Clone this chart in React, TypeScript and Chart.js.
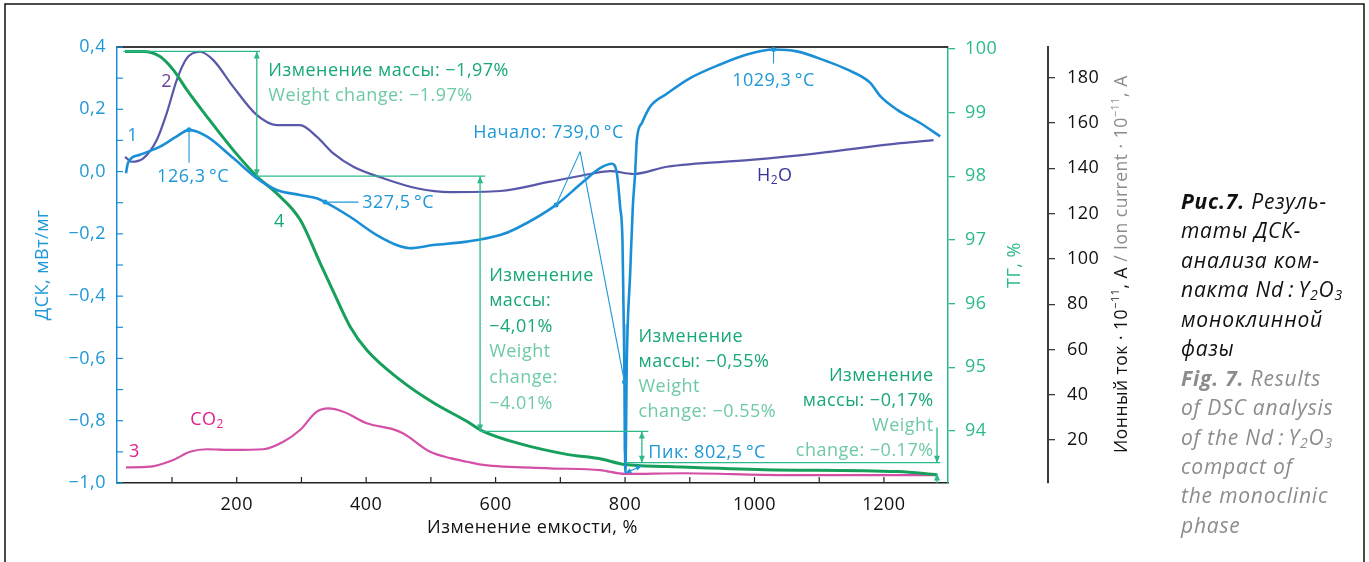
import React, { useEffect, useRef } from 'react';
import { Chart, registerables } from 'chart.js';

Chart.register(...registerables);

const FONT = "'Open Sans', 'Noto Sans', sans-serif";

// ---- Curve 1: DSC (mW/mg) vs temperature ----
const dscTemp = [28.9, 32, 50.5, 81.5, 107.3, 126.3, 153.6, 194.3, 230.9, 261.8, 297.8, 323.6, 336.5, 375, 416.4, 452.4, 467.9, 503.4, 555.5, 607, 632.8, 693.5, 735.7, 761.5, 779.6, 787.3, 792.4, 796, 797.6, 799.1, 800.5, 802.8, 807.9, 812, 815.6, 818.2, 826, 838.9, 864.6, 900.6, 947, 988.3, 1029.4, 1065.5, 1111.9, 1142.8, 1178.9, 1194.3, 1220.1, 1256, 1287];
const dscValue = [-0.005, 0.028, 0.054, 0.08, 0.113, 0.134, 0.113, 0.044, -0.021, -0.059, -0.075, -0.086, -0.098, -0.145, -0.204, -0.24, -0.246, -0.236, -0.225, -0.204, -0.182, -0.107, -0.032, 0.011, 0.025, -0.005, -0.113, -0.22, -0.435, -0.649, -0.965, -0.596, -0.327, -0.113, -0.005, 0.102, 0.156, 0.209, 0.25, 0.3, 0.344, 0.376, 0.392, 0.386, 0.354, 0.328, 0.285, 0.242, 0.199, 0.156, 0.113];

// ---- Curve 2: H2O ion current ----
const h2oTemp = [27.4, 37.7, 55.6, 76.4, 91.8, 107.3, 122.7, 143.3, 163.8, 194.7, 230.9, 261.8, 297.8, 323.6, 349.3, 380.2, 426.6, 478.2, 529.7, 607, 684.3, 746.1, 777, 813, 864.6, 994.3, 1096.4, 1225.2, 1276.7];
const h2oValue = [145.1, 142.9, 144.4, 152.5, 164.3, 179, 188.6, 191.5, 187.8, 176, 163.6, 159.1, 159.1, 154, 146.6, 140.7, 135.6, 131.2, 129.5, 130, 134.1, 137.5, 138.8, 137.5, 140.7, 143.7, 146.6, 151.1, 152.5];

// ---- Curve 3: CO2 ion current ----
const co2Temp = [28.9, 66, 102, 127.8, 153.6, 194.7, 241.1, 272, 297.8, 323.6, 341.6, 364.8, 400.9, 442, 457.5, 498.8, 530, 555.5, 581, 684, 761.5, 800, 890, 1045, 1282];
const co2Value = [7.9, 8.2, 11.2, 14.8, 15.9, 15.6, 15.9, 19.2, 24.4, 32.5, 34, 32.5, 27.4, 24.7, 22.9, 14.8, 12, 10.4, 9, 7.5, 6.7, 5, 5.3, 4.5, 4.5];

// ---- Curve 4: TG (%) ----
const tgTemp = [27.4, 55.6, 81.5, 102, 122.7, 153.6, 194.7, 230.9, 261.8, 297.8, 328.7, 350, 375, 400.9, 452.4, 503.9, 555.5, 581, 632.8, 710, 761.5, 800, 864.6, 1016, 1222, 1282];
const tgValue = [99.96, 99.96, 99.88, 99.67, 99.36, 98.94, 98.41, 98.0, 97.73, 97.32, 96.64, 96.17, 95.64, 95.27, 94.8, 94.44, 94.15, 93.99, 93.81, 93.63, 93.56, 93.47, 93.44, 93.39, 93.36, 93.31];

// ---- Axis ranges ----
const xRange = [15, 1299];
const dscRange = [-1.0, 0.4];
const tgRange = [93.18, 100.03];
const ionRange = [1, 193.6];

// ---- Mass-change levels (TG %) ----
const tgLevels = { start: 99.96, a: 98.0, b: 93.99, c: 93.5, end: 93.33 };

// ---- Text ----
const block197 = [
  ['Изменение массы: −1,97%', 'dark'],
  ['Weight change: −1.97%', 'light'],
];
const block401 = [
  ['Изменение', 'dark'], ['массы:', 'dark'], ['−4,01%', 'dark'],
  ['Weight', 'light'], ['change:', 'light'], ['−4.01%', 'light'],
];
const block055 = [
  ['Изменение', 'dark'], ['массы: −0,55%', 'dark'],
  ['Weight', 'light'], ['change: −0.55%', 'light'],
];
const block017 = [
  ['Изменение', 'dark'], ['массы: −0,17%', 'dark'],
  ['Weight', 'light'], ['change: −0.17%', 'light'],
];
const captionRu = ['Резуль-', 'таты ДСК-', 'анализа ком-', 'пакта Nd', 'моноклинной', 'фазы'];
const captionEn = ['Results', 'of DSC analysis', 'of the Nd', 'compact of', 'the monoclinic', 'phase'];

const C = {
  blue: '#1b8fd6',
  blueText: '#1e98d8',
  green: '#17a05c',
  greenAxis: '#2cb98c',
  greenDark: '#17a874',
  greenLight: '#6ecaa5',
  purple: '#5858aa',
  purpleText: '#6a3e9c',
  h2oText: '#35359a',
  pink: '#d450a6',
  pinkText: '#e3208c',
  gray: '#8c8c8c',
};

const S = 18; // main text size
const SPACING = '0.5px';

const toPts = (xs: number[], ys: number[]) => xs.map((x, i) => ({ x, y: ys[i] }));

type Run = { t: string; size?: number; dy?: number; bold?: boolean; italic?: boolean; color?: string };
type Base = { size: number; color: string; italic?: boolean; bold?: boolean; spacing?: string };

function drawRuns(ctx: any, runs: Run[], x: number, y: number, base: Base, align: 'left' | 'center' | 'right' = 'left') {
  const fontOf = (r: Run) => `${(r.italic ?? base.italic) ? 'italic ' : ''}${(r.bold ?? base.bold) ? 'bold ' : ''}${r.size ?? base.size}px ${FONT}`;
  ctx.save();
  ctx.letterSpacing = base.spacing ?? SPACING;
  let total = 0;
  for (const r of runs) { ctx.font = fontOf(r); total += ctx.measureText(r.t).width; }
  let cx = align === 'left' ? x : align === 'center' ? x - total / 2 : x - total;
  ctx.textAlign = 'left';
  ctx.textBaseline = 'middle';
  for (const r of runs) {
    ctx.font = fontOf(r);
    ctx.fillStyle = r.color ?? base.color;
    ctx.fillText(r.t, cx, y + (r.dy ?? 0));
    cx += ctx.measureText(r.t).width;
  }
  ctx.restore();
  return total;
}

function seg(ctx: CanvasRenderingContext2D, x1: number, y1: number, x2: number, y2: number) {
  ctx.beginPath(); ctx.moveTo(x1, y1); ctx.lineTo(x2, y2); ctx.stroke();
}

function head(ctx: CanvasRenderingContext2D, fx: number, fy: number, tx: number, ty: number, len = 7, half = 3) {
  const a = Math.atan2(ty - fy, tx - fx);
  ctx.beginPath();
  ctx.moveTo(tx, ty);
  ctx.lineTo(tx - len * Math.cos(a) + half * Math.sin(a), ty - len * Math.sin(a) - half * Math.cos(a));
  ctx.lineTo(tx - len * Math.cos(a) - half * Math.sin(a), ty - len * Math.sin(a) + half * Math.cos(a));
  ctx.closePath();
  ctx.fill();
}

function dot(ctx: CanvasRenderingContext2D, x: number, y: number, r = 2.5) {
  ctx.beginPath(); ctx.arc(x, y, r, 0, Math.PI * 2); ctx.fill();
}

const decor = {
  id: 'decor',
  beforeDraw(chart: any) {
    const { ctx, width, height } = chart;
    ctx.save();
    ctx.fillStyle = '#fff';
    ctx.fillRect(0, 0, width, height);
    ctx.restore();
    ctx.letterSpacing = SPACING;
  },
  beforeDatasetsDraw(chart: any) {
    const { ctx, scales } = chart;
    const X = (v: number) => scales.x.getPixelForValue(v);
    const Y = (v: number) => scales.y.getPixelForValue(v);
    ctx.save();
    ctx.fillStyle = 'rgba(120,170,225,0.55)';
    ctx.fillRect(X(797.2), Y(-0.49), X(803) - X(797.2), Y(-0.9) - Y(-0.49));
    ctx.restore();
  },
  afterDatasetsDraw(chart: any) {
    const { ctx, scales, chartArea } = chart;
    const X = (v: number) => scales.x.getPixelForValue(v);
    const Y = (v: number) => scales.y.getPixelForValue(v);
    const G = (v: number) => scales.y2.getPixelForValue(v);
    ctx.save();
    ctx.strokeStyle = '#3c3c3c';
    ctx.lineWidth = 2;
    seg(ctx, chartArea.left, chartArea.top, chartArea.right, chartArea.top);
    ctx.lineWidth = 1.2;
    ctx.strokeStyle = '#222';
    for (const t of scales.x.ticks) {
      const p = X(t.value);
      seg(ctx, p, chartArea.bottom, p, chartArea.bottom - 6);
    }
    ctx.strokeStyle = C.blue;
    for (const t of scales.y.ticks) {
      const p = Y(t.value);
      seg(ctx, chartArea.left, p, chartArea.left + 6, p);
    }

    ctx.strokeStyle = C.greenAxis;
    ctx.fillStyle = C.greenAxis;
    ctx.lineWidth = 1.3;
    const L = tgLevels;
    seg(ctx, X(25), G(L.start), X(236), G(L.start));
    seg(ctx, X(231), G(L.start), X(231), G(L.a));
    head(ctx, X(231), G(L.a), X(231), G(L.start));
    head(ctx, X(231), G(L.start), X(231), G(L.a));
    seg(ctx, X(231), G(L.a), X(584), G(L.a));
    seg(ctx, X(576), G(L.a), X(576), G(L.b));
    head(ctx, X(576), G(L.b), X(576), G(L.a));
    head(ctx, X(576), G(L.a), X(576), G(L.b));
    seg(ctx, X(576), G(L.b), X(836), G(L.b));
    seg(ctx, X(826), G(L.b), X(826), G(L.c));
    head(ctx, X(826), G(L.c), X(826), G(L.b));
    head(ctx, X(826), G(L.b), X(826), G(L.c));
    seg(ctx, X(800), G(L.c), X(1287), G(L.c));
    seg(ctx, X(1282), G(94.05), X(1282), G(L.c));
    head(ctx, X(1282), G(94.05), X(1282), G(L.c));
    seg(ctx, X(1282), chartArea.bottom, X(1282), G(L.end));
    head(ctx, X(1282), chartArea.bottom, X(1282), G(L.end));

    ctx.strokeStyle = C.blueText;
    ctx.fillStyle = C.blueText;
    ctx.lineWidth = 1.1;
    dot(ctx, X(126.3), Y(0.134));
    seg(ctx, X(126.3), Y(0.134), X(126.3), Y(0.028));
    dot(ctx, X(336.5), Y(-0.098));
    seg(ctx, X(336.5), Y(-0.098), X(388), Y(-0.098));
    dot(ctx, X(1029.4), Y(0.392));
    seg(ctx, X(1029.4), Y(0.392), X(1029.4), Y(0.347));
    seg(ctx, X(730.6), Y(0.064), X(693.5), Y(-0.107));
    dot(ctx, X(693.5), Y(-0.107));
    seg(ctx, X(730.6), Y(0.064), X(799.2), Y(-0.676));
    dot(ctx, X(799.2), Y(-0.676));
    seg(ctx, X(800.5), Y(-0.968), X(826), Y(-0.945));
    head(ctx, X(826), Y(-0.945), X(800.5), Y(-0.968), 6, 2.5);
    head(ctx, X(800.5), Y(-0.968), X(826), Y(-0.945), 6, 2.5);
    ctx.restore();
  },
  afterDraw(chart: any) {
    const { ctx, scales, chartArea, height } = chart;
    const X = (v: number) => scales.x.getPixelForValue(v);
    const Y = (v: number) => scales.y.getPixelForValue(v);
    const G = (v: number) => scales.y2.getPixelForValue(v);
    const I = (v: number) => scales.y3.getPixelForValue(v);
    ctx.save();
    const deg = '\u2009°C';
    const bl = { size: S, color: C.blueText };
    drawRuns(ctx, [{ t: '126,3' + deg }], X(132.5), Y(-0.016), bl, 'center');
    drawRuns(ctx, [{ t: '327,5' + deg }], X(394), Y(-0.102), bl, 'left');
    drawRuns(ctx, [{ t: '1029,3' + deg }], X(1029.4), Y(0.29), bl, 'center');
    drawRuns(ctx, [{ t: 'Начало: 739,0' + deg }], X(565.5), Y(0.125), bl, 'left');
    drawRuns(ctx, [{ t: 'Пик: 802,5' + deg }], X(836), Y(-0.902), bl, 'left');
    drawRuns(ctx, [{ t: '1' }], X(39.3), Y(0.115), bl, 'center');
    drawRuns(ctx, [{ t: '2' }], X(91.8), I(178.3), { size: S, color: C.purpleText }, 'center');
    drawRuns(ctx, [{ t: '3' }], X(41.7), I(14.8), { size: S, color: C.pinkText }, 'center');
    drawRuns(ctx, [{ t: '4' }], X(265.8), G(97.28), { size: S, color: C.greenDark }, 'center');
    drawRuns(ctx, [{ t: 'CO' }, { t: '2', size: 12, dy: 5 }], X(128), I(29.1), { size: S, color: C.pinkText }, 'left');
    drawRuns(ctx, [{ t: 'H' }, { t: '2', size: 12, dy: 5 }, { t: 'O' }], X(1003.7), I(136.6), { size: S, color: C.h2oText }, 'left');

    const gcol = (k: string) => (k === 'dark' ? C.greenDark : C.greenLight);
    const block = (lines: string[][], x: number, y0: number, lh: number, align: 'left' | 'right') => {
      lines.forEach(([t, k], i) => drawRuns(ctx, [{ t }], x, y0 + i * lh, { size: S, color: gcol(k) }, align));
    };
    block(block197, X(248.8), G(99.66), 25, 'left');
    block(block401, X(590), G(96.44), 25.6, 'left');
    block(block055, X(820.7), G(95.48), 25.2, 'left');
    block(block017, X(1276.7), G(94.87), 25.3, 'right');

    ctx.save();
    ctx.translate(43, (chartArea.top + chartArea.bottom) / 2);
    ctx.rotate(-Math.PI / 2);
    drawRuns(ctx, [{ t: 'ДСК, мВт/мг' }], 0, 0, { size: S, color: C.blueText }, 'center');
    ctx.restore();

    ctx.save();
    ctx.translate(1015, (chartArea.top + chartArea.bottom) / 2);
    ctx.rotate(-Math.PI / 2);
    drawRuns(ctx, [{ t: 'ТГ, %' }], 0, 0, { size: S, color: C.greenAxis }, 'center');
    ctx.restore();

    ctx.save();
    ctx.translate(1122, 453);
    ctx.rotate(-Math.PI / 2);
    drawRuns(ctx, [
      { t: 'Ионный ток · 10' }, { t: '−11', size: 11, dy: -6 }, { t: ', A ' },
      { t: '/ Ion current · 10', color: C.gray }, { t: '−11', size: 11, dy: -6, color: C.gray }, { t: ', A', color: C.gray },
    ], 0, 0, { size: 17.5, color: '#111' }, 'left');
    ctx.restore();

    drawRuns(ctx, [{ t: 'Изменение емкости, %' }], (chartArea.left + chartArea.right) / 2, 528, { size: S, color: '#111' }, 'center');

    const cx = 1181, cy0 = 203, clh = 29.45, cs = 21, csp = '0.8px';
    const ru: Base = { size: cs, color: '#111', italic: true, spacing: csp };
    const en: Base = { size: cs, color: C.gray, italic: true, spacing: csp };
    drawRuns(ctx, [{ t: 'Рис.7.', bold: true }, { t: ' ' + captionRu[0] }], cx, cy0, ru);
    drawRuns(ctx, [{ t: captionRu[1] }], cx, cy0 + clh, ru);
    drawRuns(ctx, [{ t: captionRu[2] }], cx, cy0 + 2 * clh, ru);
    drawRuns(ctx, [{ t: captionRu[3] + '\u2009:\u2009Y' }, { t: '2', size: 14, dy: 5 }, { t: 'O' }, { t: '3', size: 14, dy: 5 }], cx, cy0 + 3 * clh, ru);
    drawRuns(ctx, [{ t: captionRu[4] }], cx, cy0 + 4 * clh, ru);
    drawRuns(ctx, [{ t: captionRu[5] }], cx, cy0 + 5 * clh, ru);
    drawRuns(ctx, [{ t: 'Fig. 7.', bold: true }, { t: ' ' + captionEn[0] }], cx, cy0 + 6 * clh, en);
    drawRuns(ctx, [{ t: captionEn[1] }], cx, cy0 + 7 * clh, en);
    drawRuns(ctx, [{ t: captionEn[2] + '\u2009:\u2009Y' }, { t: '2', size: 14, dy: 5 }, { t: 'O' }, { t: '3', size: 14, dy: 5 }], cx, cy0 + 8 * clh, en);
    drawRuns(ctx, [{ t: captionEn[3] }], cx, cy0 + 9 * clh, en);
    drawRuns(ctx, [{ t: captionEn[4] }], cx, cy0 + 10 * clh, en);
    drawRuns(ctx, [{ t: captionEn[5] }], cx, cy0 + 11 * clh, en);

    ctx.strokeStyle = '#111';
    ctx.lineWidth = 1.5;
    ctx.beginPath();
    ctx.moveTo(5, height);
    ctx.lineTo(5, 4);
    ctx.lineTo(1364, 4);
    ctx.lineTo(1364, height);
    ctx.stroke();
    ctx.restore();
  },
};

const fmtComma = (v: number, d: number) => v.toFixed(d).replace('.', ',').replace('-', '−');

export default function App() {
  const ref = useRef<HTMLCanvasElement>(null);
  useEffect(() => {
    document.body.style.margin = '0';
    const common = { pointRadius: 0, fill: false, cubicInterpolationMode: 'monotone' as const };
    const tickFont = { family: FONT, size: S };
    const chart = new Chart(ref.current as HTMLCanvasElement, {
      type: 'line',
      data: {
        datasets: [
          { ...common, label: 'ДСК', data: toPts(dscTemp, dscValue), yAxisID: 'y', borderColor: C.blue, borderWidth: 2.6 },
          { ...common, label: 'ТГ', data: toPts(tgTemp, tgValue), yAxisID: 'y2', borderColor: C.green, borderWidth: 3 },
          { ...common, label: 'H2O', data: toPts(h2oTemp, h2oValue), yAxisID: 'y3', borderColor: C.purple, borderWidth: 2.2 },
          { ...common, label: 'CO2', data: toPts(co2Temp, co2Value), yAxisID: 'y3', borderColor: C.pink, borderWidth: 2.2 },
        ] as any,
      },
      options: {
        responsive: false,
        animation: false,
        layout: { padding: { left: 0, top: 47, right: 211, bottom: 0 } },
        plugins: { legend: { display: false }, tooltip: { enabled: false } },
        scales: {
          x: {
            type: 'linear', position: 'bottom', min: xRange[0], max: xRange[1],
            afterFit: (s: any) => { s.height = 79; },
            border: { color: '#222', width: 1.5 },
            grid: { drawOnChartArea: false, drawTicks: false },
            ticks: {
              stepSize: 100, includeBounds: false, autoSkip: false, maxRotation: 0, padding: 11,
              color: '#111', font: tickFont,
              callback: (v: any) => (Math.round(v) % 200 === 0 ? String(Math.round(v)) : ''),
            },
          },
          y: {
            type: 'linear', position: 'left', min: dscRange[0], max: dscRange[1],
            afterFit: (s: any) => { s.width = 117; },
            border: { color: C.blue, width: 1.5 },
            grid: { drawOnChartArea: false, drawTicks: false },
            ticks: {
              stepSize: 0.1, includeBounds: false, autoSkip: false, padding: 11,
              color: C.blueText, font: tickFont,
              callback: (v: any) => { const r = Math.round(v * 10); return r % 2 === 0 ? fmtComma(r / 10, 1) : ''; },
            },
          },
          y2: {
            type: 'linear', position: 'right', weight: 1, min: tgRange[0], max: tgRange[1],
            afterFit: (s: any) => { s.width = 100; },
            border: { color: C.greenAxis, width: 1.5 },
            grid: { drawOnChartArea: false, color: C.greenAxis, lineWidth: 1.3, tickLength: 7 },
            ticks: { stepSize: 1, includeBounds: false, autoSkip: false, padding: 10, color: C.greenAxis, font: tickFont },
          },
          y3: {
            type: 'linear', position: 'right', weight: 2, min: ionRange[0], max: ionRange[1],
            afterFit: (s: any) => { s.width = 110; },
            border: { color: '#3a3a3a', width: 2 },
            grid: { drawOnChartArea: false, color: '#3a3a3a', lineWidth: 1.3, tickLength: 7 },
            ticks: { stepSize: 20, includeBounds: false, autoSkip: false, padding: 12, color: '#111', font: tickFont },
          },
        },
      } as any,
      plugins: [decor],
    });
    return () => chart.destroy();
  }, []);
  return (
    <div style={{ width: 1369, height: 562, position: 'relative', background: '#fff' }}>
      <canvas ref={ref} width={1369} height={562} style={{ display: 'block' }} />
    </div>
  );
}
